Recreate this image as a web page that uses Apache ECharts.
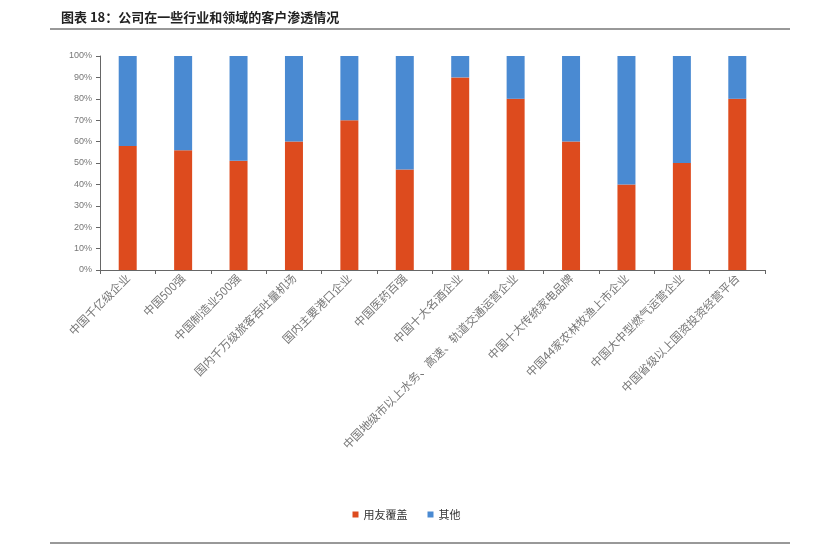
<!DOCTYPE html>
<html><head><meta charset="utf-8">
<script src="https://cdn.jsdelivr.net/npm/echarts@6/dist/echarts.min.js"></script>
<style>html,body{margin:0;padding:0;background:#fff}#c{width:813px;height:547px}</style>
</head><body><div id="c"></div>
<script>
const categories = ["中国千亿级企业","中国500强","中国制造业500强","国内千万级旅客吞吐量机场","国内主要港口企业","中国医药百强","中国十大名酒企业","中国地级市以上水务、高速、轨道交通运营企业","中国十大传统家电品牌","中国44家农林牧渔上市企业","中国大中型燃气运营企业","中国省级以上国资投资经营平台"];
const userCoverage = [58,56,51,60,70,47,90,80,60,40,50,80];
const others = [42,44,49,40,30,53,10,20,40,60,50,20];
const title = "图表 18：公司在一些行业和领域的客户渗透情况";
const chart = echarts.init(document.getElementById('c'));
const serif = "'Noto Sans CJK SC', serif";
chart.setOption({
  animation:false,
  title:{text:title,left:56,top:6,textStyle:{fontSize:13,fontWeight:'bold',color:'#222',fontFamily:serif}},
  graphic:[
    {type:'line',shape:{x1:50,y1:29,x2:790,y2:29},style:{stroke:'#333',lineWidth:1}},
    {type:'line',shape:{x1:50,y1:543,x2:790,y2:543},style:{stroke:'#333',lineWidth:1}}
  ],
  legend:{bottom:22,itemWidth:6,itemHeight:6,icon:'rect',itemGap:20,textStyle:{fontSize:11,color:'#333',fontFamily:serif}},
  grid:{left:100,right:48,top:56,bottom:277,containLabel:false},
  xAxis:{type:'category',data:categories,axisTick:{show:true,alignWithLabel:false,length:4,lineStyle:{color:'#666'}},
    axisLine:{lineStyle:{color:'#666'}},
    axisLabel:{rotate:45,fontSize:11.5,color:'#777',interval:0,fontFamily:serif,margin:6}},
  yAxis:{type:'value',min:0,max:100,interval:10,splitLine:{show:false},
    axisLine:{show:true,lineStyle:{color:'#666'}},axisTick:{show:true,length:4},
    axisLabel:{formatter:'{value}%',fontSize:9,color:'#777'}},
  series:[
    {name:'用友覆盖',type:'bar',stack:'a',data:userCoverage,barWidth:18,itemStyle:{color:'#dd4b1e'}},
    {name:'其他',type:'bar',stack:'a',data:others,barWidth:18,itemStyle:{color:'#4a8ad2'}}
  ]
});
</script></body></html>
